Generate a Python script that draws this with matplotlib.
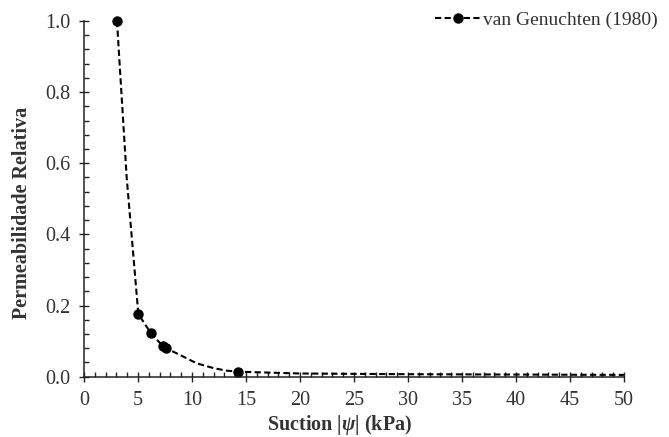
import matplotlib
matplotlib.use('Agg')
import matplotlib.pyplot as plt
from matplotlib.ticker import MultipleLocator, FormatStrFormatter

# curve (kPa, relative permeability)
suction = [3.05, 3.95, 5.03, 6.2, 7.3, 7.6, 8.9, 10.4, 12.0, 13.2, 14.3,
           20.0, 30.0, 40.0, 50.0]
kr = [1.0, 0.56, 0.176, 0.122, 0.086, 0.080, 0.061, 0.038, 0.024, 0.017,
      0.014, 0.009, 0.007, 0.006, 0.005]
# which of those points carry a marker
marked = [0, 2, 3, 4, 5, 10]

xticks = list(range(0, 55, 5))
yticks = [0.0, 0.2, 0.4, 0.6, 0.8, 1.0]

plt.rcParams['font.family'] = ['Liberation Serif', 'DejaVu Serif']
plt.rcParams['mathtext.fontset'] = 'custom'
plt.rcParams['mathtext.rm'] = 'Liberation Serif:bold'
plt.rcParams['mathtext.it'] = 'Liberation Serif:bold:italic'

fig = plt.figure(figsize=(6.69, 4.37), dpi=100)
ax = fig.add_axes([0.1256, 0.138, 0.807, 0.814])

ax.plot(suction, kr, color='black', ls=(0, (3, 1.6)), lw=1.5,
        marker='o', ms=6.5, markevery=marked, clip_on=False,
        label='van Genuchten (1980)')

ax.set_xlim(0, 50)
ax.set_ylim(0, 1.0)
ax.set_xticks(xticks)
ax.set_yticks(yticks)
ax.yaxis.set_major_formatter(FormatStrFormatter('%.1f'))
ax.xaxis.set_minor_locator(MultipleLocator(1))
ax.yaxis.set_minor_locator(MultipleLocator(0.04))

ax.tick_params(which='major', direction='inout', length=7, width=1,
               labelsize=14.5, colors='#222222', labelcolor='#333333')
ax.tick_params(which='minor', direction='in', length=3.5, width=1, colors='#222222')
ax.tick_params(axis='x', pad=7)
ax.tick_params(axis='y', pad=6)

for s in ['top', 'right']:
    ax.spines[s].set_visible(False)
for s in ['left', 'bottom']:
    ax.spines[s].set_linewidth(1.1)
    ax.spines[s].set_color('#222222')

ax.set_xlabel(r'Suction |$\psi$| (kPa)', fontsize=14.5, fontweight='bold',
              color='#333333')
ax.set_ylabel('Permeabilidade Relativa', fontsize=14.5, fontweight='bold',
              color='#333333')
ax.xaxis.set_label_coords(0.474, -0.102)
ax.yaxis.set_label_coords(-0.097, 0.46)

fig.legend(loc='upper right', bbox_to_anchor=(1.01, 1.015), frameon=False,
           fontsize=14, handlelength=2.4, handletextpad=0.1, labelcolor='#333333')

fig.savefig('out.png', dpi=100)
